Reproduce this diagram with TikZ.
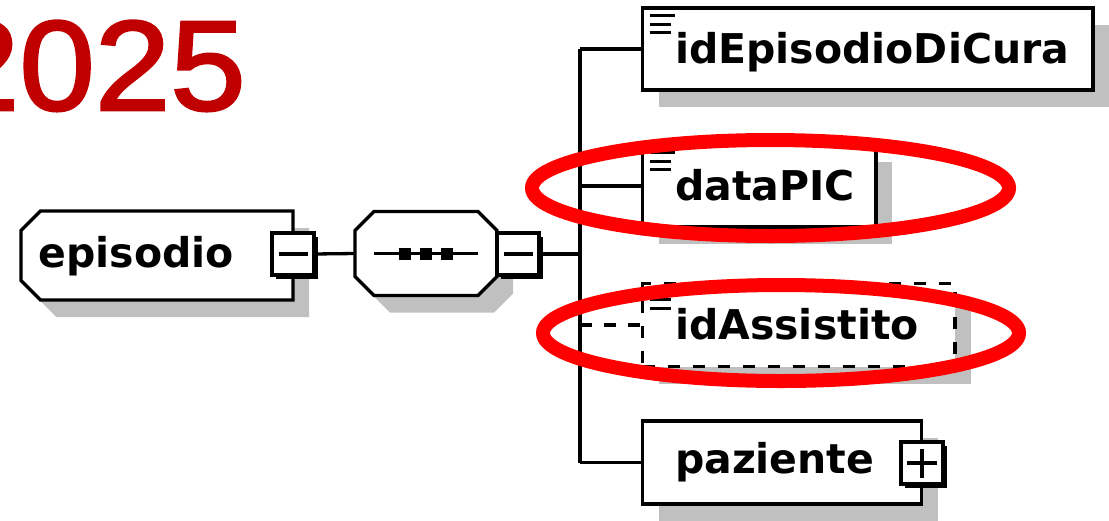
\documentclass[tikz,border=0pt]{standalone}
\usepackage{fontspec}
\setmainfont{DejaVu Sans}
\newfontfamily\yearfont[FakeStretch=1.06,FakeBold=2]{Liberation Sans}
\usetikzlibrary{shadows}
\definecolor{yearred}{RGB}{192,0,0}
\definecolor{shadowgray}{RGB}{192,192,192}
\tikzset{
  grayshadow/.style={drop shadow={shadow xshift=16pt,shadow yshift=-17pt,fill=shadowgray,opacity=1}},
  lbl/.style={inner sep=0pt,align=left,font=\bfseries\fontsize{41}{46}\selectfont,text height=40pt,text depth=12pt},
  elem/.style={draw,line width=3.3pt,fill=white,outer sep=0pt,inner xsep=32.5pt,inner ysep=0pt,lbl,grayshadow},
  optelem/.style={elem,dash pattern=on 12pt off 13pt},
  frame/.style={inner sep=0pt,outer sep=0pt},
  togglebox/.style={draw,line width=4pt,fill=white,outer sep=0pt,inner sep=0pt,minimum size=42pt,
    drop shadow={shadow xshift=4pt,shadow yshift=-4pt,fill=black,opacity=1}},
  link/.style={line width=3.3pt},
  yeartext/.style={anchor=base east,inner sep=0pt,font=\yearfont\fontsize{128}{140}\selectfont},
  redring/.style={draw=red,line width=14pt}
}
% outline with cut corners round a frame node: node, left cut, right cut, shift
\newcommand\cutframe[4]{([shift={#4},xshift=#2]#1.north west) -- ([shift={#4},xshift=-#3]#1.north east)
  -- ([shift={#4},yshift=-#3]#1.north east) -- ([shift={#4},yshift=#3]#1.south east)
  -- ([shift={#4},xshift=-#3]#1.south east) -- ([shift={#4},xshift=#2]#1.south west)
  -- ([shift={#4},yshift=#2]#1.south west) -- ([shift={#4},yshift=-#2]#1.north west) -- cycle}
\newcommand\simplebars[1]{%
  \draw[line width=3pt] ([shift={(7,7.5)}]#1.north west) -- ++(25,0)
    ([shift={(7,16)}]#1.north west) -- ++(21,0)
    ([shift={(7,24.5)}]#1.north west) -- ++(21,0);}

\begin{document}
\begin{tikzpicture}[x=1pt,y=-1pt]
  \useasboundingbox (0,0) rectangle (1109,520);
  \node[yeartext,text=yearred] (year) at (246,110) {2025};

  \node[frame,minimum width=272pt,minimum height=89pt] (epiFrame) at (157,255.5) {};
  \fill[shadowgray] \cutframe{epiFrame}{19.5pt}{0pt}{(16,17)};
  \draw[link,fill=white] \cutframe{epiFrame}{19.5pt}{0pt}{(0,0)};
  \node[lbl,text width=237pt,text depth=17pt] (episodio) at (epiFrame) {episodio};
  \node[togglebox] (epMinus) at (293,254) {};
  \draw[line width=4pt] ([xshift=-14.5pt]epMinus.center) -- ([xshift=14.5pt]epMinus.center);

  \node[frame,minimum width=142pt,minimum height=84pt] (seq) at (426,253.5) {};
  \fill[shadowgray] \cutframe{seq}{19pt}{19pt}{(16,17)};
  \draw[link,fill=white] \cutframe{seq}{19pt}{19pt}{(0,0)};
  \draw[link] ([xshift=-52pt]seq.center) -- ([xshift=52pt]seq.center);
  \foreach \dx in {-21,0,21}
    \fill ([xshift=\dx pt]seq.center) +(-6,-6) rectangle +(6,6);
  \node[togglebox] (seqMinus) at (518,254) {};
  \draw[line width=4pt] ([xshift=-14.5pt]seqMinus.center) -- ([xshift=14.5pt]seqMinus.center);

  \node[elem,minimum width=450.5pt,minimum height=82pt,text width=385.5pt] (idEpisodio) at (867.75,49) {idEpisodioDiCura};
  \node[elem,minimum width=233.5pt,minimum height=82pt,text width=168.5pt] (dataPIC) at (759.25,186) {dataPIC};
  \node[optelem,minimum width=312.5pt,minimum height=83pt,text width=247.5pt] (idAssistito) at (798.75,325) {idAssistito};
  \node[elem,minimum width=279pt,minimum height=83pt,text width=214pt,text depth=19pt] (paziente) at (782,462.5) {paziente};
  \simplebars{idEpisodio}
  \simplebars{dataPIC}
  \simplebars{idAssistito}
  \node[togglebox] (pazPlus) at (922,463) {};
  \draw[line width=4pt] ([xshift=-15pt]pazPlus.center) -- ([xshift=15pt]pazPlus.center)
    ([yshift=-14.5pt]pazPlus.center) -- ([yshift=14.5pt]pazPlus.center);

  \draw[link] (epMinus.east) -- (seq.west);
  \draw[link] (seqMinus.east) -- ++(41,0) coordinate (trunk);
  \draw[link] (trunk |- idEpisodio.west) -- (trunk |- paziente.west);
  \draw[link] (trunk |- idEpisodio.west) -- (idEpisodio.west);
  \draw[link] (trunk |- dataPIC.west) -- (dataPIC.west);
  \draw[link,dash pattern=on 12pt off 12pt] (trunk |- idAssistito.west) -- (idAssistito.west);
  \draw[link] (trunk |- paziente.west) -- (paziente.west);

  \draw[redring] (770.5,188) ellipse (238.5 and 48);
  \draw[redring] (781,333) ellipse (238 and 48);
\end{tikzpicture}
\end{document}
